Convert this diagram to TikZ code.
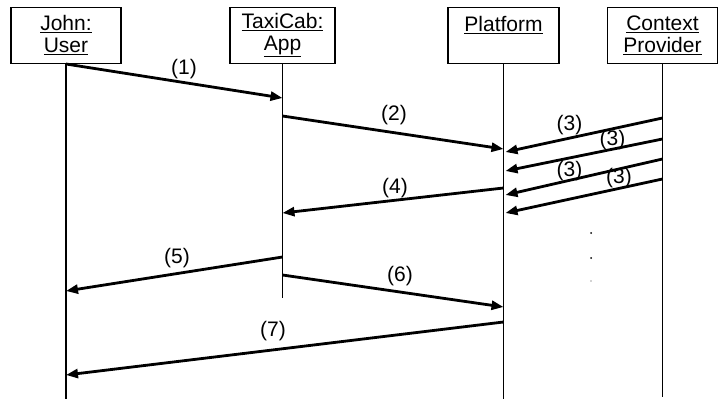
\documentclass[tikz,border=0pt]{standalone}
\usepackage{fontspec}
\setmainfont{Liberation Sans}
\usetikzlibrary{arrows.meta}
\begin{document}
\begin{tikzpicture}[x=1pt, y=-1pt,
  obj/.style={draw, line width=1.3pt, minimum height=56pt, inner sep=0pt, anchor=north, align=center, font=\fontsize{21}{22}\selectfont},
  life/.style={line width=1.3pt},
  msg/.style={line width=2.8pt, -{Triangle[length=12pt, width=9pt]}},
  lbl/.style={inner sep=0pt, font=\fontsize{21}{22}\selectfont}]
\useasboundingbox (0,0) rectangle (718,399);

\node[obj, minimum width=110pt] (user) at (66, 6.7) {\underline{John:}\\\underline{User}};
\node[obj, minimum width=105pt] (app) at (282.5, 6.7) {\underline{TaxiCab:}\\\underline{App}};
\node[obj, minimum width=111pt] (platform) at (503.5, 6.7) {\underline{Platform}\\\mbox{}};
\node[obj, minimum width=110pt] (ctx) at (662.5, 6.7) {\underline{Context}\\\underline{Provider}};

\coordinate (userend) at (66, 399);
\coordinate (append) at (282.5, 298);
\coordinate (platformend) at (503.5, 399);
\coordinate (ctxend) at (662.5, 397);
\draw[life] (user.south) -- (userend);
\draw[life] (app.south) -- (append);
\draw[life] (platform.south) -- (platformend);
\draw[life] (ctx.south) -- (ctxend);

\draw[msg] (user.south |- 0,64) -- (app.south |- 0,98);
\node[lbl] (l1) at (184, 69) {(1)};

\draw[msg] (app.south |- 0,116) -- (platform.south |- 0,149);
\node[lbl] (l2) at (394, 115.5) {(2)};

\draw[msg] (ctx.south |- 0,118) -- ([xshift=2pt]platform.south |- 0,152);
\draw[msg] (ctx.south |- 0,139) -- ([xshift=2pt]platform.south |- 0,171);
\draw[msg] (ctx.south |- 0,159) -- ([xshift=2pt]platform.south |- 0,195);
\draw[msg] (ctx.south |- 0,179) -- ([xshift=2pt]platform.south |- 0,213);
\node[lbl] (l3a) at (569.5, 125) {(3)};
\node[lbl] (l3b) at (612.5, 140) {(3)};
\node[lbl] (l3c) at (569.5, 171) {(3)};
\node[lbl] (l3d) at (619, 178) {(3)};

\draw[msg] (platform.south |- 0,188) -- (app.south |- 0,213);
\node[lbl] (l4) at (395, 188) {(4)};

\draw[msg] (app.south |- 0,257) -- (user.south |- 0,291);
\node[lbl] (l5) at (177, 258) {(5)};

\draw[msg] (app.south |- 0,275) -- (platform.south |- 0,307);
\node[lbl] (l6) at (400, 276) {(6)};

\draw[msg] (platform.south |- 0,322) -- (user.south |- 0,375);
\node[lbl] (l7) at (273, 331) {(7)};

\fill (591, 233) circle (1pt);
\fill (591, 258) circle (1pt);
\fill[black!35] (591, 281) circle (0.8pt);
\end{tikzpicture}
\end{document}
